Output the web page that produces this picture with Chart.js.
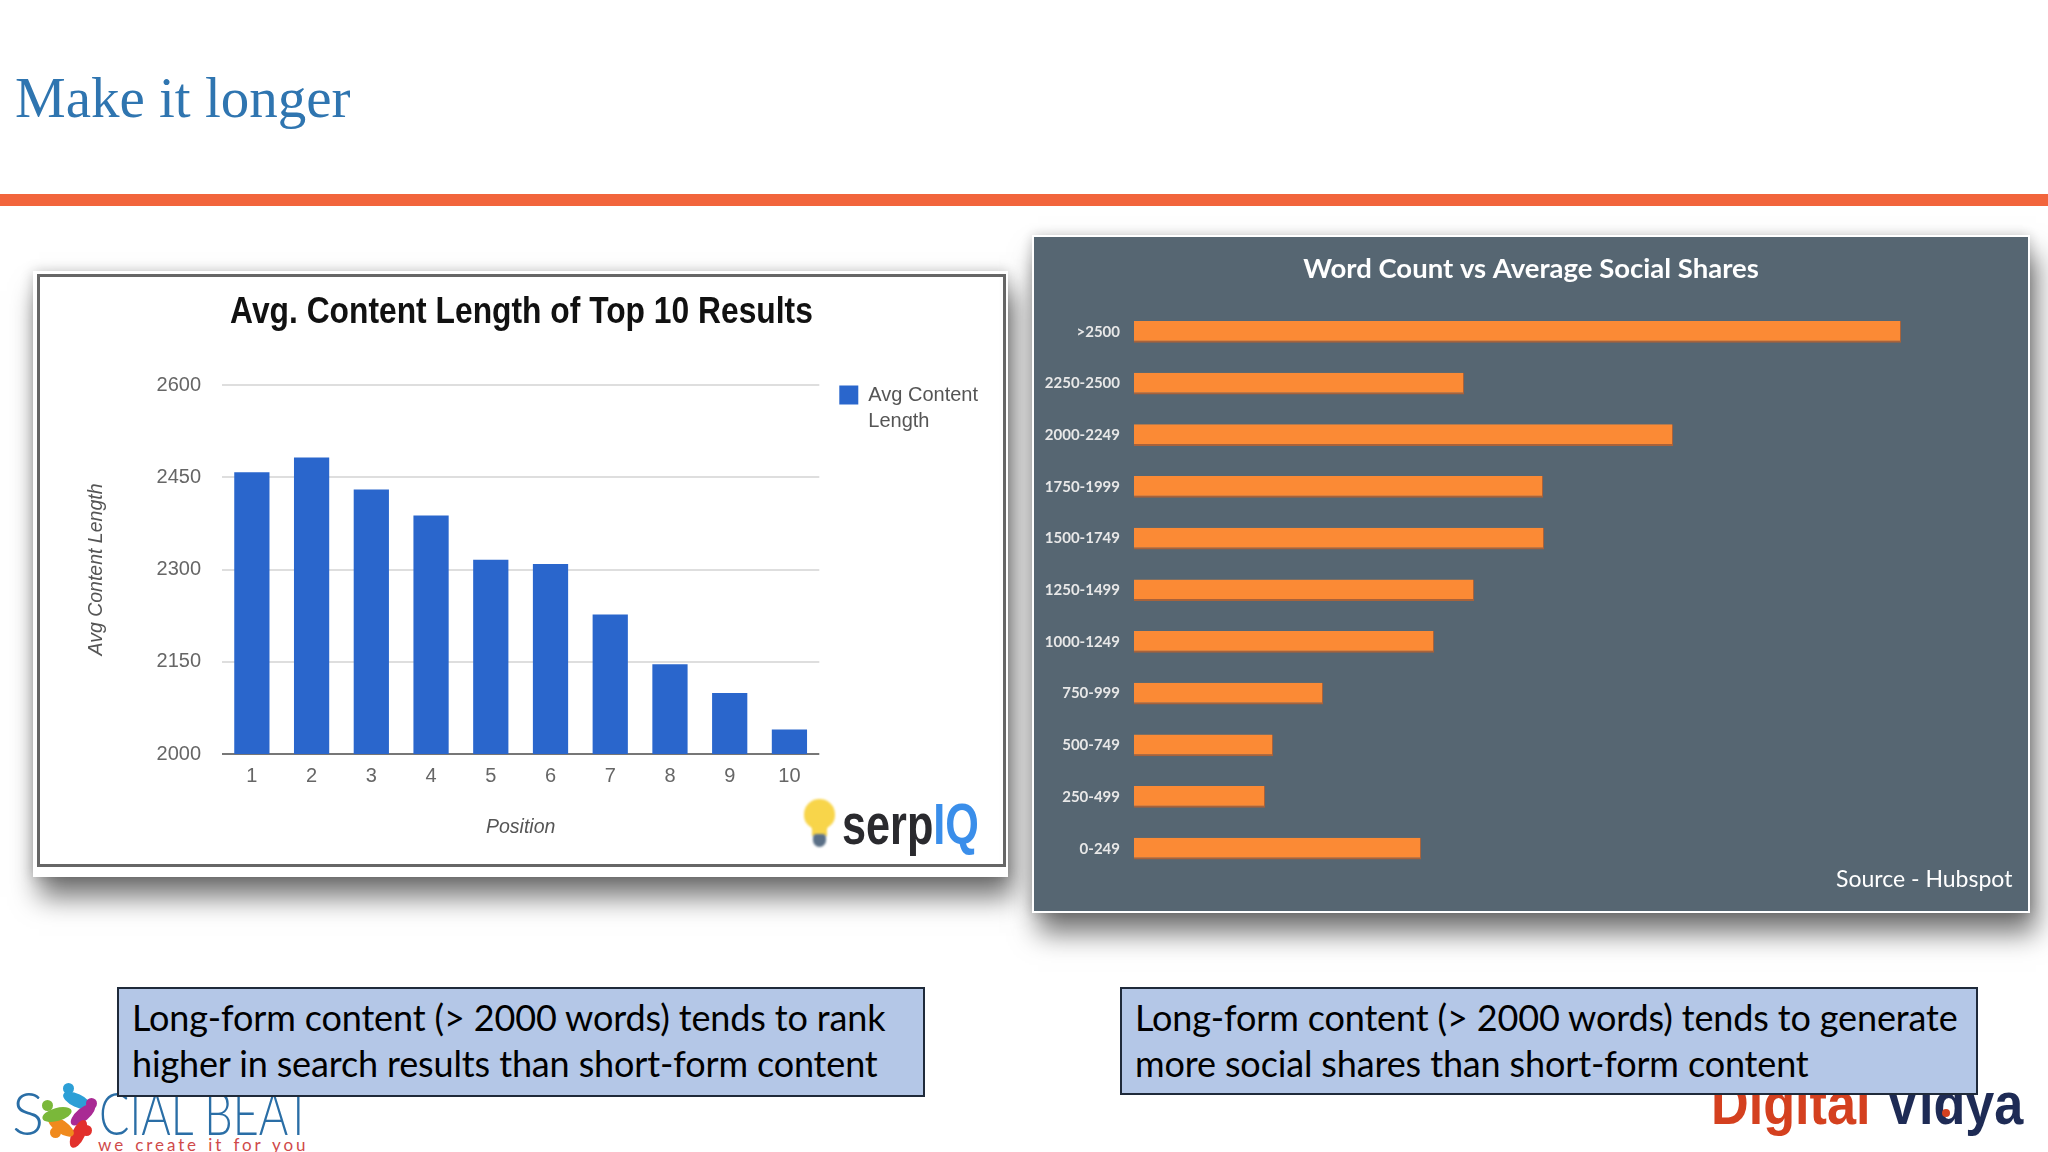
<!DOCTYPE html>
<html>
<head>
<meta charset="utf-8">
<title>Make it longer</title>
<script src="https://cdn.jsdelivr.net/npm/chart.js@4/dist/chart.umd.min.js"></script>
<style>
  html, body { margin: 0; padding: 0; background: #fff; }
  #slide { position: relative; width: 2048px; height: 1152px; overflow: hidden; background: #fff; }
  #slide > * { position: absolute; }
  #heading { left: 15px; top: 65px; font: 57px "Liberation Serif", serif; color: #2f75b0; }
  #strip { left: 0; top: 194px; width: 2048px; height: 12px; background: #f2653c; }
  #leftFrame { left: 33px; top: 271px; width: 975px; height: 606px; background: #fff; box-shadow: 6px 20px 26px rgba(0,0,0,.55), 0 0 12px rgba(0,0,0,.2); }
  #leftChart { left: 37px; top: 274px; outline: 3px solid #666; outline-offset: -3px; filter: blur(.6px); }
  #leftTitle { left: 37px; top: 290px; width: 969px; text-align: center; font: bold 36px "Liberation Sans", sans-serif; color: #111; transform: scaleX(.883); white-space: pre; }
  #rightFrame { left: 1032px; top: 235px; width: 998px; height: 678px; background: #fff; box-shadow: 6px 20px 26px rgba(0,0,0,.55), 0 0 12px rgba(0,0,0,.2); }
  #rightChart { left: 1034px; top: 237px; filter: blur(.6px); }
  #source { left: 1836px; top: 864px; font: 23px Lato, sans-serif; color: #fff; white-space: pre; }
  .note { background: #b4c7e7; border: 2px solid #1f2a3a; box-sizing: border-box; font: 36px/46px Lato, sans-serif; color: #000; white-space: pre; padding: 5px 0 0 13px; letter-spacing: -0.14px; z-index: 2; }
  #noteLeft { left: 117px; top: 987px; width: 808px; height: 110px; }
  #noteRight { left: 1120px; top: 987px; width: 858px; height: 108px; }
  #serp { left: 842px; top: 790px; font: bold 58px "Liberation Sans", sans-serif; color: #2a2a2e; transform: scaleX(.745); transform-origin: left top; white-space: pre; }
  #serp span { color: #3a8eea; }
  #bulb { left: 804px; top: 799px; width: 31px; height: 30px; border-radius: 50% 50% 45% 45%; background: #f8d54a; filter: blur(1px); }
  #bulbNeck { left: 812px; top: 824px; width: 15px; height: 12px; background: #f8d54a; filter: blur(1px); }
  #bulbBase { left: 813px; top: 834px; width: 13px; height: 13px; border-radius: 4px 4px 7px 7px; background: #5a6f86; filter: blur(1px); }
  #beatS { left: 12px; top: 1076px; font: 300 60px Lato, sans-serif; color: #2a6ea6; }
  #beat { left: 99px; top: 1076px; font: 300 60px Lato, sans-serif; color: #2a6ea6; white-space: pre; transform: scaleX(.75); transform-origin: left top; }
  #beatTag { left: 98px; top: 1134px; font: 400 17px Lato, sans-serif; letter-spacing: 2.9px; word-spacing: 2px; color: #cf4a4a; white-space: pre; }
  .head, .arm { border-radius: 50%; }
  .head { width: 11px; height: 11px; }
  .arm { width: 30px; height: 13px; }
  #digital { left: 1711px; top: 1069px; font: bold 60px "Liberation Sans", sans-serif; color: #d4401f; white-space: pre; transform: scaleX(.87); transform-origin: left top; }
  #digital span { color: #1e2b55; }
  #vidyaDot { left: 1942px; top: 1109px; width: 8px; height: 8px; border-radius: 50%; background: #d4401f; }
</style>
</head>
<body>
<div id="slide">
  <div id="heading">Make it longer</div>
  <div id="strip"></div>

  <div id="leftFrame"></div>
  <canvas id="leftChart" width="969" height="593"></canvas>
  <div id="leftTitle">Avg. Content Length of Top 10 Results</div>
  <div id="bulb"></div>
  <div id="bulbNeck"></div>
  <div id="bulbBase"></div>
  <div id="serp">serp<span>IQ</span></div>

  <div id="rightFrame"></div>
  <canvas id="rightChart" width="994" height="674"></canvas>
  <div id="source">Source - Hubspot</div>

  <div id="beatS">S</div>
  <div class="head" style="left:63px;top:1083px;background:#2c9fd6"></div>
  <div class="arm" style="left:62px;top:1094px;background:#2c9fd6;transform:rotate(25deg)"></div>
  <div class="head" style="left:86px;top:1098px;background:#a92a94"></div>
  <div class="arm" style="left:68px;top:1108px;background:#a92a94;transform:rotate(-40deg)"></div>
  <div class="head" style="left:81px;top:1125px;background:#e2302c"></div>
  <div class="arm" style="left:66px;top:1122px;background:#e2302c;transform:rotate(-65deg) translateX(-6px)"></div>
  <div class="head" style="left:50px;top:1127px;background:#f08a1d"></div>
  <div class="arm" style="left:46px;top:1120px;background:#f08a1d;transform:rotate(35deg)"></div>
  <div class="head" style="left:42px;top:1100px;background:#7ab83a"></div>
  <div class="arm" style="left:42px;top:1108px;background:#7ab83a;transform:rotate(-15deg)"></div>
  <div id="beat">CIAL BEAT</div>
  <div id="beatTag">we create it for you</div>
  <div id="digital">Digital <span>Vidya</span></div>
  <div id="vidyaDot"></div>

  <div class="note" id="noteLeft">Long-form content (&gt; 2000 words) tends to rank
higher in search results than short-form content</div>
  <div class="note" id="noteRight">Long-form content (&gt; 2000 words) tends to generate
more social shares than short-form content</div>
</div>

<script>
// Left chart - avg content length by SERP position
const positions = ['1', '2', '3', '4', '5', '6', '7', '8', '9', '10'];
const contentLength = [2458, 2482, 2430, 2388, 2316, 2309, 2227, 2146, 2099, 2040];

// Right chart - no value axis in the picture, so shares are in relative units
const wordBuckets = ['>2500', '2250-2500', '2000-2249', '1750-1999', '1500-1749', '1250-1499', '1000-1249', '750-999', '500-749', '250-499', '0-249'];
const socialShares = [767, 330, 539, 409, 410, 340, 300, 189, 139, 131, 287];

// Google-chart look: legend sits level with the top of the plot
const legendLift = {
    id: 'legendLift',
    afterLayout(chart) {
        chart.legend.top -= 20;
        chart.legend.bottom -= 20;
    }
};

new Chart(document.getElementById('leftChart'), {
    type: 'bar',
    data: {
        labels: positions,
        datasets: [{
            label: 'Avg Content Length',
            data: contentLength,
            backgroundColor: '#2a66cc',
            barPercentage: 0.59,
            categoryPercentage: 1
        }]
    },
    options: {
        responsive: false,
        animation: false,
        layout: { padding: { top: 111, right: 18 } },
        plugins: {
            legend: {
                position: 'right',
                align: 'start',
                fullSize: false,
                labels: {
                    boxWidth: 19,
                    boxHeight: 19,
                    padding: 20,
                    color: '#555',
                    font: { family: '"Liberation Sans"', size: 20, lineHeight: 1.3 },
                    generateLabels: () => [{
                        text: ['Avg Content', 'Length'],
                        fillStyle: '#2a66cc',
                        strokeStyle: '#2a66cc',
                        lineWidth: 0,
                        fontColor: '#555'
                    }]
                }
            },
            tooltip: { enabled: false }
        },
        scales: {
            x: {
                grid: { display: false },
                border: { display: false },
                ticks: { color: '#666', padding: 2, maxRotation: 0, font: { family: '"Liberation Sans"', size: 20 } },
                title: {
                    display: true,
                    text: 'Position',
                    color: '#555',
                    padding: { top: 6, bottom: 28 },
                    font: { family: '"Liberation Sans"', size: 19.5, style: 'italic' }
                },
                afterFit: (scale) => { scale.height = 113; }
            },
            y: {
                min: 2000,
                max: 2600,
                grid: {
                    drawTicks: false,
                    lineWidth: 2,
                    color: (ctx) => (ctx.tick.value === 2000 ? '#777' : '#dedede')
                },
                border: { display: false },
                ticks: {
                    stepSize: 150,
                    color: '#666',
                    padding: 21,
                    font: { family: '"Liberation Sans"', size: 20 },
                    callback: (value) => String(value)
                },
                title: {
                    display: true,
                    text: 'Avg Content Length',
                    color: '#555',
                    padding: { top: 48, bottom: 6 },
                    font: { family: '"Liberation Sans"', size: 19.5, style: 'italic' }
                },
                afterFit: (scale) => { scale.width = 185; }
            }
        }
    },
    plugins: [legendLift]
});

new Chart(document.getElementById('rightChart'), {
    type: 'bar',
    data: {
        labels: wordBuckets,
        datasets: [{
            label: 'Average Social Shares',
            data: socialShares,
            backgroundColor: '#fb8a35',
            borderColor: '#a9623a',
            borderWidth: { top: 0, left: 0, right: 1, bottom: 2 },
            borderSkipped: false,
            barPercentage: 0.42,
            categoryPercentage: 1
        }]
    },
    options: {
        indexAxis: 'y',
        responsive: false,
        animation: false,
        layout: { padding: { bottom: 36.5 } },
        plugins: {
            title: {
                display: true,
                text: 'Word Count vs Average Social Shares',
                color: '#fff',
                font: { family: 'Lato', size: 27.5, weight: 'bold' },
                padding: { top: 16, bottom: 20 }
            },
            legend: { display: false },
            tooltip: { enabled: false }
        },
        scales: {
            x: { display: false, min: 0, max: 894 },
            y: {
                grid: { display: false },
                border: { display: false },
                ticks: { color: '#e8e8e8', padding: 6, font: { family: 'Lato', size: 15, weight: 'bold' } },
                afterFit: (scale) => { scale.width = 100; }
            }
        }
    },
    plugins: [{
        id: 'panelBackground',
        beforeDraw(chart) {
            chart.ctx.fillStyle = '#566672';
            chart.ctx.fillRect(0, 0, chart.width, chart.height);
        }
    }]
});
</script>
</body>
</html>
